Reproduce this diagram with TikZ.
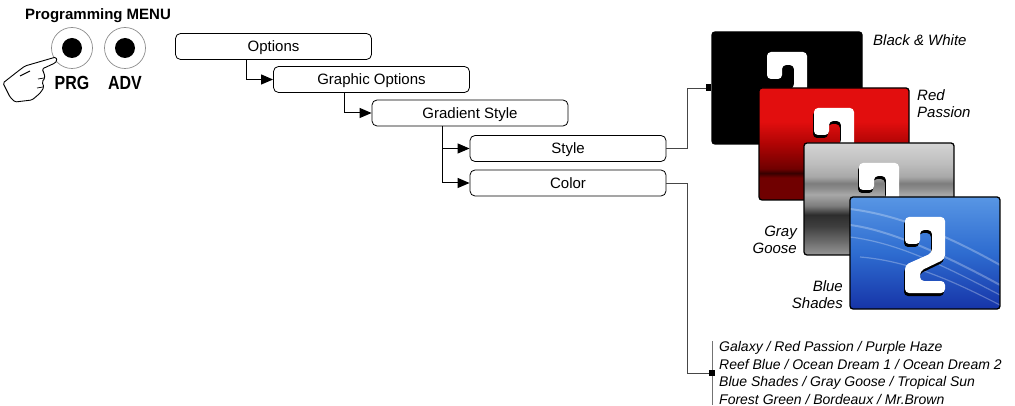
\documentclass[tikz,border=0pt]{standalone}
\usepackage{fontspec}
\setmainfont{Liberation Sans}
\newfontfamily\narrowsans[FakeStretch=0.84]{Liberation Sans}
\usepackage{tikz}
\usetikzlibrary{arrows.meta,positioning}

\definecolor{redA}{RGB}{226,14,14}
\definecolor{redM}{RGB}{175,4,4}
\definecolor{redB}{RGB}{112,0,0}
\definecolor{redC}{RGB}{55,0,0}
\definecolor{grA}{RGB}{150,150,150}
\definecolor{grB}{RGB}{108,108,108}
\definecolor{grC}{RGB}{62,62,62}
\definecolor{grD}{RGB}{45,45,45}
\definecolor{grE}{RGB}{125,125,125}
\definecolor{grF}{RGB}{168,168,168}
\definecolor{grG}{RGB}{138,138,138}
\definecolor{grH}{RGB}{190,190,190}
\definecolor{grI}{RGB}{212,212,212}
\definecolor{blA}{RGB}{22,52,168}
\definecolor{blB}{RGB}{46,108,208}
\definecolor{blC}{RGB}{88,150,228}
\definecolor{wireline}{RGB}{70,70,70}

\pgfdeclareverticalshading{redfade}{100bp}{color(0bp)=(redB); color(25bp)=(redB);
  color(35bp)=(redB); color(37bp)=(redC); color(39bp)=(redB); color(50bp)=(redM);
  color(60bp)=(redA); color(75bp)=(redA); color(100bp)=(redA)}
\pgfdeclareverticalshading{grayfade}{100bp}{color(0bp)=(grA); color(25bp)=(grA);
  color(31bp)=(grB); color(38bp)=(grC); color(43bp)=(grD); color(47bp)=(grE);
  color(52bp)=(grF); color(55bp)=(grG); color(57bp)=(grE); color(60bp)=(grF);
  color(66bp)=(grH); color(75bp)=(grI); color(100bp)=(grI)}
\pgfdeclareverticalshading{bluefade}{100bp}{color(0bp)=(blA); color(25bp)=(blA);
  color(50bp)=(blB); color(75bp)=(blC); color(100bp)=(blC)}

\tikzset{
  menubox/.style={draw, rounded corners=5pt, line width=0.8pt, inner sep=0pt,
    minimum width=196pt, minimum height=26pt, text height=11pt, text depth=0pt,
    font=\fontsize{15}{18}\selectfont},
  link/.style={line width=1pt, -{Triangle[length=12pt,width=10pt]}},
  wire/.style={line width=0.9pt, wireline},
  ring/.style={circle, draw=black!45, line width=0.7pt, minimum size=41pt, inner sep=0pt},
  btnlabel/.style={font=\fontsize{19}{22}\selectfont\narrowsans\bfseries, inner sep=0pt},
  hand/.style={draw, fill=white, line width=0.9pt, rounded corners=1.5pt, line join=round},
  shot/.style={minimum width=150pt, minimum height=112pt, inner sep=0pt,
    rounded corners=3pt, draw=black, line width=1.3pt,
    path picture={#1
      \pic at ([shift={(55,20)}]path picture bounding box.north west) {bigtwo};}},
  shot/.default={},
  caption/.style={font=\fontsize{15}{17}\selectfont\itshape, inner sep=0pt},
  listtext/.style={font=\fontsize{14}{17.5}\selectfont\itshape, inner sep=0pt, align=left},
  streak/.style={white, opacity=0.28, line width=2pt},
  pics/bigtwo/.style={code={
    \fill[black, shift={(-1,3)}, rounded corners=4pt]
      (0,27) -- (0,0) -- (40,0) -- (40,42) -- (15,54) -- (15,64) -- (40,64)
      -- (40,76) -- (0,76) -- (0,48) -- (27,36) -- (27,13) -- (15,13) -- (15,27) -- cycle;
    \fill[white, rounded corners=4pt]
      (0,27) -- (0,0) -- (40,0) -- (40,42) -- (15,54) -- (15,64) -- (40,64)
      -- (40,76) -- (0,76) -- (0,48) -- (27,36) -- (27,13) -- (15,13) -- (15,27) -- cycle;
  }},
  pics/streaks/.style={code={
    \draw[streak] (0,12) .. controls (50,18) and (100,40) .. (150,68);
    \draw[streak] (0,28) .. controls (40,33) and (95,58) .. (150,88);
    \draw[streak, line width=1.2pt] (0,40) .. controls (50,46) and (100,72) .. (150,98);
    \draw[streak, line width=1.2pt] (10,60) .. controls (60,64) and (105,85) .. (150,108);
  }}
}

\begin{document}
\begin{tikzpicture}[x=1pt, y=-1pt]
\useasboundingbox (0,0) rectangle (1015,406);

% programming buttons
\node[font=\fontsize{15}{18}\selectfont\bfseries, inner sep=0pt] (menu) at (98,16) {Programming MENU};
\node[ring] (prg) at (72,48) {};
\node[ring] (adv) at (125,48) {};
\fill (prg.center) circle (10pt);
\fill (adv.center) circle (10pt);
\node[btnlabel, below=7pt of prg] (prglbl) {PRG};
\node[btnlabel, below=7pt of adv] (advlbl) {ADV};

% pointing hand
\draw[hand] (3,83) -- (17,72) -- (25,66) -- (56,57) -- (57,61) -- (55,63) -- (42,69)
  -- (44,73) -- (45,78) -- (42,82) -- (44,87) -- (41,92) -- (38,95) -- (32,100)
  -- (15,102) -- (10,97) -- cycle;
\draw[line width=0.9pt] (20,76) -- (30,71);
\draw[line width=0.7pt] (44,78) -- (38,79);
\draw[line width=0.7pt] (43,87) -- (37,88);

% menu tree
\node[menubox] (opt) at (273.5,46.5) {Options};
\node[menubox] (gopt) at (371.5,79.5) {Graphic Options};
\node[menubox] (grad) at (470,113) {Gradient Style};
\node[menubox] (sty) at (568,148.5) {Style};
\node[menubox] (col) at (568,183) {Color};

\draw[link] ([xshift=71pt]opt.south west) |- (gopt.west);
\draw[link] ([xshift=71pt]gopt.south west) |- (grad.west);
\draw[link] ([xshift=71pt]grad.south west) |- (sty.west);
\draw[link] ([xshift=71pt]grad.south west) |- (col.west);

% style previews
\node[shot, fill=black] (bw) at (787,88) {};
\node[shot, shading=redfade] (rp) at (834,144) {};
\node[shot, shading=grayfade] (gg) at (879,199) {};
\node[shot={\pic at (path picture bounding box.north west) {streaks};}, shading=bluefade] (bs) at (925,253) {};

\node[caption, anchor=west] (bwlbl) at (873,40) {Black \& White};
\node[caption, anchor=west, align=left] (rplbl) at (917,104) {Red\\Passion};
\node[caption, anchor=east, align=right] (gglbl) at (797,240) {Gray\\Goose};
\node[caption, anchor=east, align=right] (bslbl) at (843,295) {Blue\\Shades};

\draw[wire] (sty.east) -- ++(21,0) |- (bw.west);
\fill ([xshift=-5pt]bw.west) +(0,-3.5) rectangle +(5,3.5);

% colour list
\node[listtext, anchor=west] (lst) at (719,373) {Galaxy / Red Passion / Purple Haze\\
  Reef Blue / Ocean Dream 1 / Ocean Dream 2\\
  Blue Shades / Gray Goose / Tropical Sun\\
  Forest Green / Bordeaux / Mr.Brown};
\draw[wire, black!55] ([xshift=-7pt]lst.north west) -- ([xshift=-7pt]lst.south west);
\draw[wire] (col.east) -- ++(21,0) |- ([xshift=-7pt]lst.west);
\fill ([xshift=-7pt]lst.west) +(-3,-3) rectangle +(3,3);
\end{tikzpicture}
\end{document}
